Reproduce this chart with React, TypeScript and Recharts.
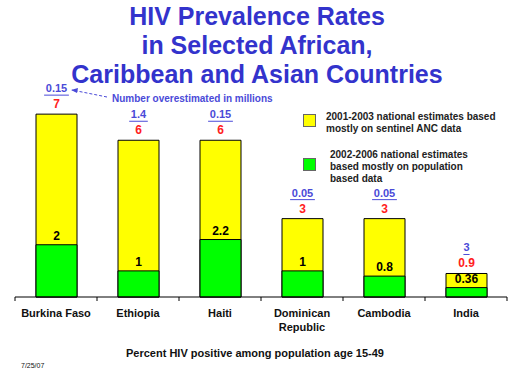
import React from "react";
import { BarChart, Bar, XAxis, YAxis, LabelList } from "recharts";

const countries = ["Burkina Faso", "Ethiopia", "Haiti", "Dominican Republic", "Cambodia", "India"];
const ancEstimates = [7, 6, 6, 3, 3, 0.9];
const popEstimates = [2, 1, 2.2, 1, 0.8, 0.36];
const overestimated = ["0.15", "1.4", "0.15", "0.05", "0.05", "3"];

const data = countries.map((name, i) => ({
  name,
  anc: ancEstimates[i],
  pop: popEstimates[i],
  over: overestimated[i],
}));

const FONT = "'Liberation Sans', Arial, sans-serif";
const BLUE = "#3333cc";
const BAND = 82;

function CountryTick(props: any) {
  const { x, y, payload, index } = props;
  const words: string[] = payload.value === "Dominican Republic" ? ["Dominican", "Republic"] : [payload.value];
  return (
    <g>
      <line x1={x - BAND / 2} x2={x - BAND / 2} y1={y} y2={y + 4} stroke="#000" />
      {index === countries.length - 1 && (
        <line x1={x + BAND / 2} x2={x + BAND / 2} y1={y} y2={y + 4} stroke="#000" />
      )}
      {words.map((w, k) => (
        <text key={k} x={x} y={y + 20 + k * 14} textAnchor="middle" fontFamily={FONT} fontWeight="bold" fontSize={11} fill="#111">
          {w}
        </text>
      ))}
    </g>
  );
}

function TopLabel(props: any) {
  const { x, y, width, index } = props;
  const cx = x + width / 2;
  const over = overestimated[index];
  const w = over.length * 6.2;
  return (
    <g fontFamily={FONT} fontWeight="bold" textAnchor="middle">
      <text x={cx} y={y - 6} fontSize={12} fill="#ff2020">{ancEstimates[index]}</text>
      <text x={cx} y={y - 22} fontSize={11} fill="#4a4ad8">{over}</text>
      <line x1={cx - w / 2} x2={cx + w / 2} y1={y - 19} y2={y - 19} stroke="#4a4ad8" />
    </g>
  );
}

function PopLabel(props: any) {
  const { x, y, width, index } = props;
  return (
    <text x={x + width / 2} y={y - 5} textAnchor="middle" fontFamily={FONT} fontWeight="bold" fontSize={12} fill="#000">
      {popEstimates[index]}
    </text>
  );
}

function LegendBox() {
  return (
    <g transform="translate(303,114)" fontFamily={FONT} fontWeight="bold" fontSize={10} fill="#222">
      <rect x={0.5} y={0.5} width={12} height={12} fill="#ffff00" stroke="#666" />
      <text x={23} y={6}>2001-2003 national estimates based</text>
      <text x={23} y={18}>mostly on sentinel ANC data</text>
      <rect x={0.5} y={44.5} width={12} height={12} fill="#00ff00" stroke="#666" />
      <text x={27} y={44}>2002-2006 national estimates</text>
      <text x={27} y={56}>based mostly on population</text>
      <text x={27} y={68}>based data</text>
    </g>
  );
}

export default function App() {
  return (
    <div style={{ position: "absolute", left: 0, top: 0, width: 512, height: 384, background: "#fff" }}>
      <svg width={512} height={384} style={{ position: "absolute", left: 0, top: 0 }}>
        <g fontFamily={FONT} fontWeight="bold" fill={BLUE} textAnchor="middle" fontSize={25}>
          <text x={257} y={25}>HIV Prevalence Rates</text>
          <text x={257} y={54}>in Selected African,</text>
          <text x={257} y={83}>Caribbean and Asian Countries</text>
        </g>
        <text x={112} y={102} fontFamily={FONT} fontWeight="bold" fontSize={10} fill="#4a4ad8">
          Number overestimated in millions
        </text>
        <line x1={107} y1={97} x2={72} y2={90} stroke="#4a4ad8" strokeDasharray="3 2" />
        <path d="M71 90 L78 88 L77 93 Z" fill="#4a4ad8" />
        <LegendBox />
        <text x={255} y={357} textAnchor="middle" fontFamily={FONT} fontWeight="bold" fontSize={11} fill="#111">
          Percent HIV positive among population age 15-49
        </text>
        <text x={21} y={368} fontFamily={FONT} fontSize={7} fill="#111">7/25/07</text>
      </svg>
      <div style={{ position: "absolute", left: 0, top: 0 }}>
        <BarChart
          width={512}
          height={384}
          data={data}
          margin={{ top: 88, right: 5, left: 15, bottom: 57 }}
          barSize={41}
          barGap={-41}
        >
          <YAxis hide domain={[0, 8]} />
          <XAxis
            dataKey="name"
            height={30}
            axisLine={{ stroke: "#000" }}
            tickLine={false}
            tickSize={0}
            tickMargin={0}
            interval={0}
            tick={<CountryTick />}
          />
          <Bar dataKey="anc" name="2001-2003 national estimates" fill="#ffff00" stroke="#000" strokeWidth={1} isAnimationActive={false}>
            <LabelList dataKey="anc" content={<TopLabel />} />
          </Bar>
          <Bar dataKey="pop" name="2002-2006 national estimates" fill="#00ff00" stroke="#000" strokeWidth={1} isAnimationActive={false}>
            <LabelList dataKey="pop" content={<PopLabel />} />
          </Bar>
        </BarChart>
      </div>
    </div>
  );
}
